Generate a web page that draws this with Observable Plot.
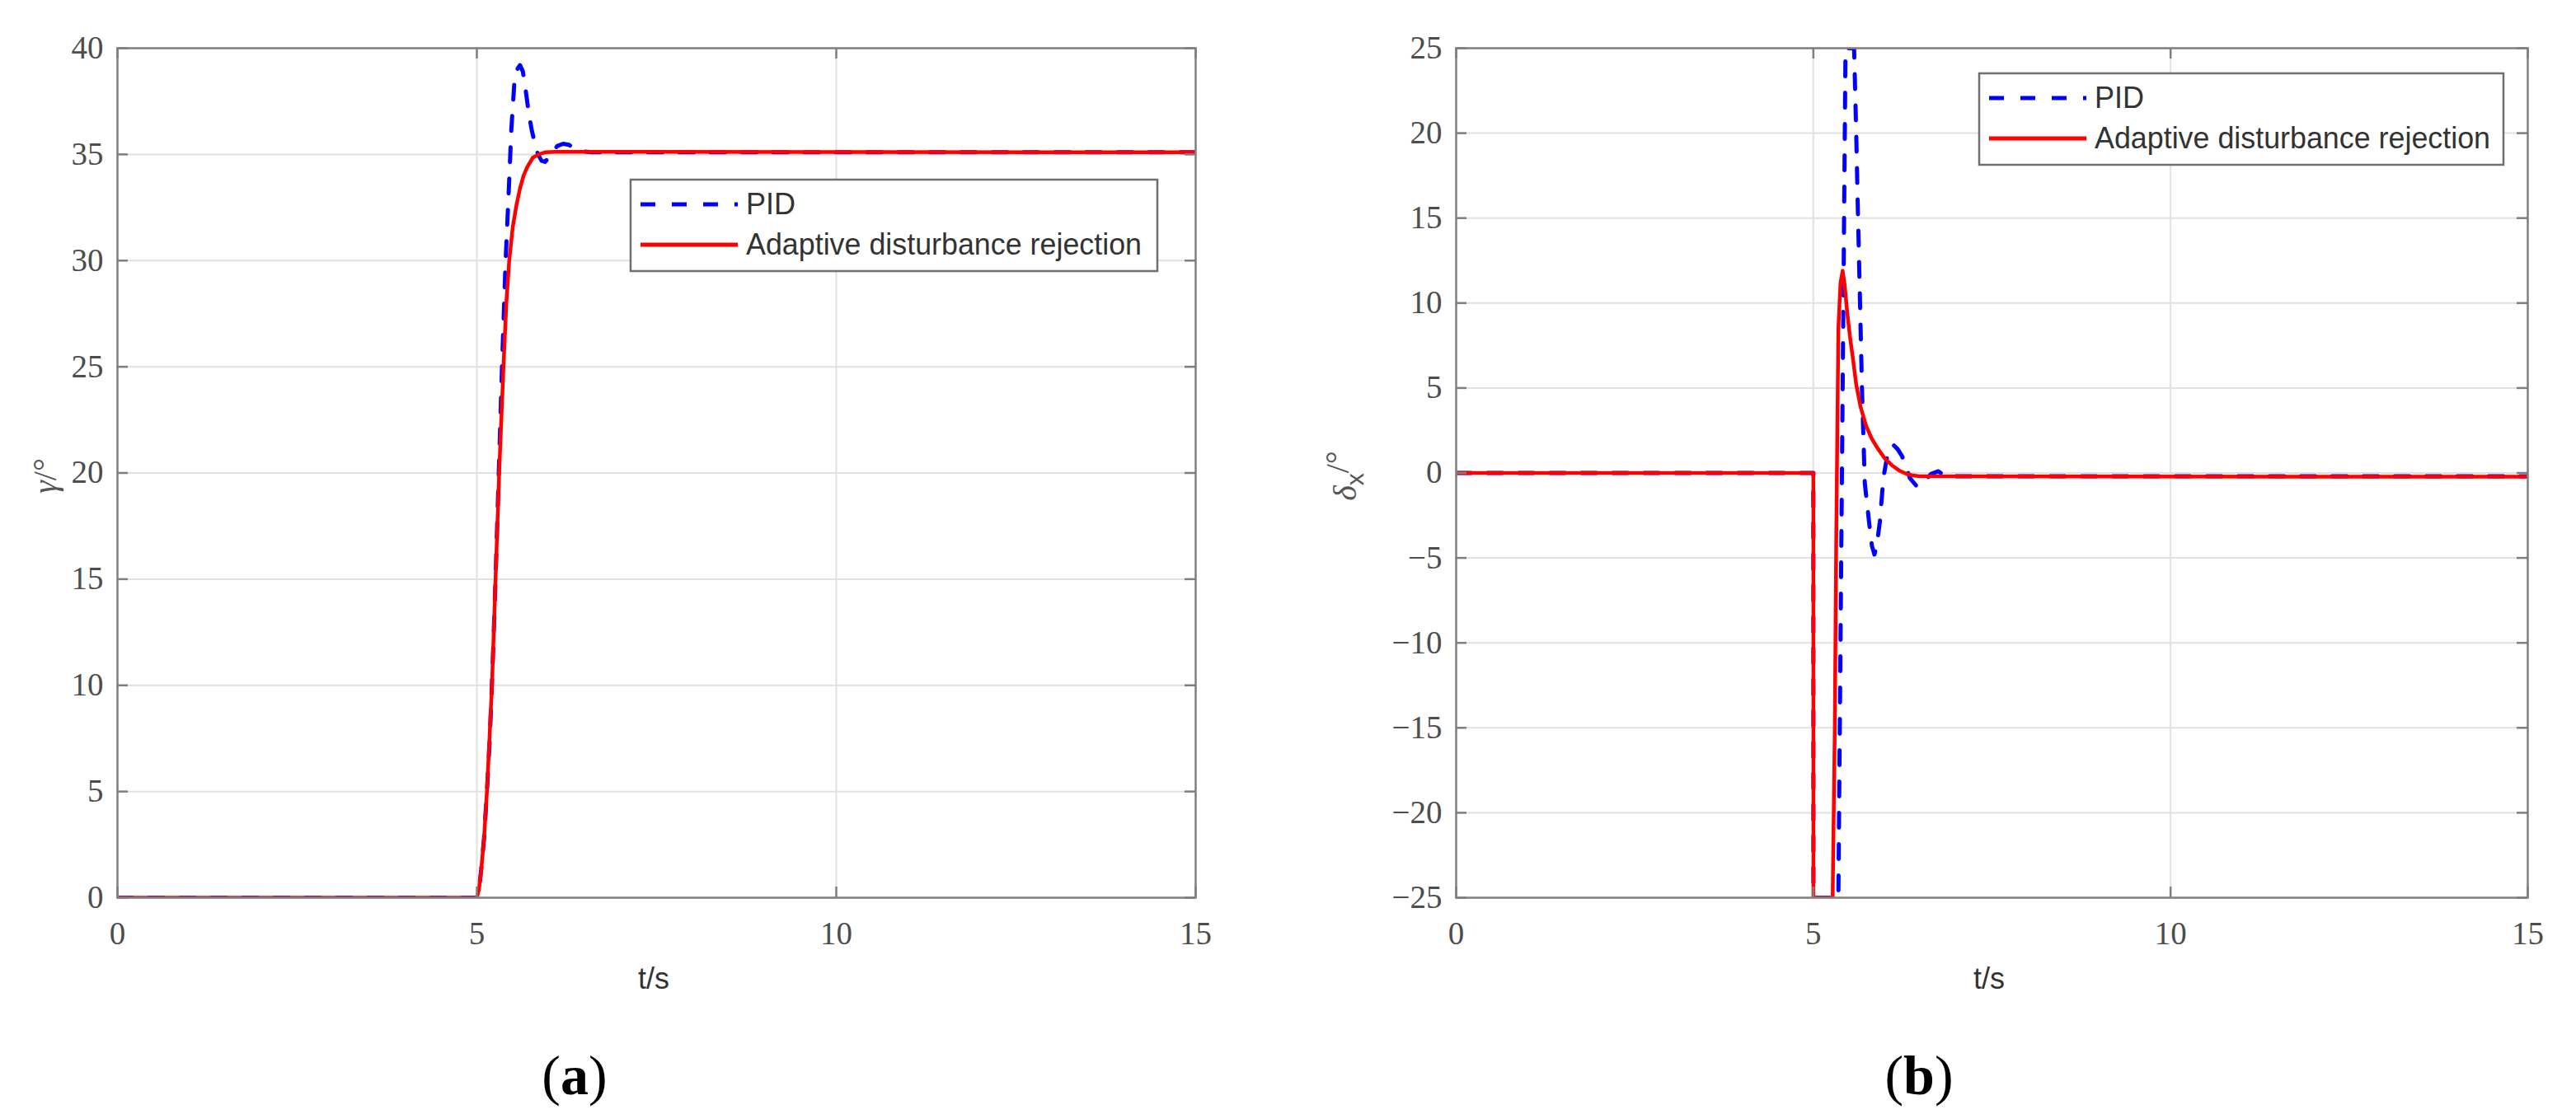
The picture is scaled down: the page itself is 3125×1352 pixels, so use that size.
<!DOCTYPE html>
<html>
<head>
<meta charset="utf-8">
<script src="https://cdn.jsdelivr.net/npm/d3@7"></script>
<script src="https://cdn.jsdelivr.net/npm/@observablehq/plot@0.6"></script>
<style>
html, body { margin: 0; padding: 0; background: #fff; }
#root { position: relative; width: 3125px; height: 1352px; overflow: hidden; background: #fff; }
#root svg { position: absolute; top: 0; }
.cap { position: absolute; top: 1271px; font-family: "Liberation Serif", "Times New Roman", serif; font-size: 68px; line-height: 1; color: #000; transform: translateX(-50%); white-space: nowrap; }
</style>
</head>
<body>
<div id="root"></div>
<script>
// ---------- data ----------
const xTicks = [0, 5, 10, 15];
const gammaTicks = [0, 5, 10, 15, 20, 25, 30, 35, 40];
const deltaTicks = [-25, -20, -15, -10, -5, 0, 5, 10, 15, 20, 25];
const seriesNames = ["PID", "Adaptive disturbance rejection"];

// (a) roll angle gamma
const gammaPidT = [0, 5.00, 5.03, 5.06, 5.10, 5.14, 5.18, 5.22, 5.26, 5.30, 5.35, 5.40, 5.44, 5.48, 5.52, 5.56, 5.60, 5.64, 5.68, 5.72, 5.76, 5.80, 5.85, 5.90, 5.95, 6.00, 6.05, 6.12, 6.20, 6.28, 6.36, 6.45, 6.60, 15];
const gammaPidV = [0, 0, 0.4, 1.3, 2.8, 5.0, 7.5, 11, 15, 19.5, 25, 30, 33, 36.2, 38.3, 39.0, 39.2, 38.9, 38.0, 37.0, 36.2, 35.6, 35.0, 34.7, 34.65, 34.85, 35.1, 35.4, 35.5, 35.45, 35.3, 35.15, 35.1, 35.1];
const gammaAdrT = [0, 5.00, 5.03, 5.06, 5.10, 5.14, 5.18, 5.21, 5.26, 5.31, 5.37, 5.41, 5.45, 5.50, 5.55, 5.60, 5.65, 5.70, 5.78, 5.86, 5.95, 6.10, 15];
const gammaAdrV = [0, 0, 0.4, 1.3, 2.8, 5.0, 7.8, 10, 15, 20, 25, 28, 30, 31.6, 32.6, 33.4, 34.0, 34.4, 34.85, 35.0, 35.1, 35.12, 35.1];

// (b) aileron deflection delta_x
const deltaPidT = [0, 5.00, 5.001, 5.35, 5.45, 5.57, 5.60, 5.62, 5.65, 5.68, 5.72, 5.78, 5.82, 5.855, 5.89, 5.93, 5.98, 6.03, 6.07, 6.12, 6.18, 6.24, 6.30, 6.35, 6.45, 6.55, 6.65, 6.75, 6.85, 15];
const deltaPidV = [0, 0, -25, -25, 25, 25, 20, 16, 10.6, 5.0, -0.6, -2.9, -4.3, -4.8, -4.2, -2.9, -0.3, 0.9, 1.5, 1.65, 1.4, 1.0, 0.35, -0.3, -0.8, -0.5, -0.05, 0.1, -0.2, -0.2];
const deltaAdrT = [0, 5.00, 5.001, 5.27, 5.30, 5.32, 5.35, 5.38, 5.41, 5.44, 5.47, 5.51, 5.55, 5.60, 5.66, 5.74, 5.82, 5.90, 6.00, 6.10, 6.20, 6.30, 6.40, 6.50, 15];
const deltaAdrV = [0, 0, -25, -25, -15, -4, 8.5, 11.2, 11.9, 11.0, 9.6, 8.1, 6.85, 5.2, 3.9, 2.75, 2.0, 1.45, 0.85, 0.45, 0.15, -0.05, -0.15, -0.2, -0.22];

// ---------- styling ----------
const BLUE = "#0000ff", RED = "#ff0000";
const AXIS = "#7f7f7f", GRID = "#e1e1e1", TXT = "#4d4d4d";
const H = 1260, TOP = 58, BOTTOM = 1089, TICK = 13;

const zip = (T, V) => T.map((t, i) => ({t, v: V[i]}));

function panel(o) {
  const innerW = o.width - o.mL - o.mR;
  const innerH = BOTTOM - TOP;
  const svg = Plot.plot({
    width: o.width,
    height: H,
    marginLeft: o.mL,
    marginRight: o.mR,
    marginTop: TOP,
    marginBottom: H - BOTTOM,
    style: {fontFamily: "'Liberation Serif', 'Times New Roman', serif", fontSize: "39px", color: TXT, background: "transparent", overflow: "visible"},
    x: {domain: [0, 15], ticks: xTicks},
    y: {domain: o.yDomain, ticks: o.yTicks},
    marks: [
      Plot.gridX([5, 10], {x: d => d, stroke: GRID, strokeOpacity: 1, strokeWidth: 2}),
      Plot.gridY(o.yTicks, {y: d => d, stroke: GRID, strokeOpacity: 1, strokeWidth: 2}),
      Plot.axisX({ticks: xTicks, tickSize: 0, tickPadding: 29, label: null, fill: TXT}),
      Plot.axisY({ticks: o.yTicks, tickSize: 0, tickPadding: 17, label: null, fill: TXT}),
      Plot.line(zip(o.pidT, o.pidV), {x: "t", y: "v", stroke: BLUE, strokeWidth: 5, strokeDasharray: "18,20", strokeLinejoin: "round", clip: true}),
      Plot.line(zip(o.adrT, o.adrV), {x: "t", y: "v", stroke: RED, strokeWidth: 4.5, strokeLinejoin: "round", clip: true}),
      Plot.tickX(xTicks, {x: d => d, insetTop: innerH - TICK, stroke: AXIS, strokeWidth: 2.5}),
      Plot.tickX(xTicks, {x: d => d, insetBottom: innerH - TICK, stroke: AXIS, strokeWidth: 2.5}),
      Plot.tickY(o.yTicks, {y: d => d, insetRight: innerW - TICK, stroke: AXIS, strokeWidth: 2.5}),
      Plot.tickY(o.yTicks, {y: d => d, insetLeft: innerW - TICK, stroke: AXIS, strokeWidth: 2.5}),
      Plot.frame({stroke: AXIS, strokeWidth: 2.5})
    ]
  });
  svg.style.left = o.left + "px";
  const s = d3.select(svg);

  // x label
  s.append("text")
    .attr("x", o.mL + innerW / 2 - 3).attr("y", 1200)
    .attr("text-anchor", "middle")
    .style("font-family", "'Liberation Sans', Arial, sans-serif").style("font-size", "36px")
    .attr("fill", "#333").text("t/s");

  // y label (rotated)
  const yl = s.append("text")
    .attr("transform", `translate(${o.ylx},${(TOP + BOTTOM) / 2 + 4}) rotate(-90)`)
    .attr("text-anchor", "middle").attr("dy", "0.35em")
    .style("font-family", "'Liberation Serif', 'Times New Roman', serif").style("font-size", "40px")
    .attr("fill", "#555");
  o.ylabel(yl);

  // legend
  const L = o.legend;
  const g = s.append("g").attr("text-anchor", "start");
  g.append("rect").attr("x", L.x).attr("y", L.y).attr("width", L.w).attr("height", L.h)
    .attr("fill", "#fff").attr("stroke", "#6f6f6f").attr("stroke-width", 2.5);
  const rows = [
    {name: seriesNames[0], stroke: BLUE, dash: "18,20", dy: 30},
    {name: seriesNames[1], stroke: RED, dash: null, dy: 79}
  ];
  rows.forEach(r => {
    const yy = L.y + r.dy;
    const ln = g.append("line").attr("x1", L.x + 12).attr("x2", L.x + 130).attr("y1", yy).attr("y2", yy)
      .attr("stroke", r.stroke).attr("stroke-width", 5);
    if (r.dash) ln.attr("stroke-dasharray", r.dash);
    const t = g.append("text").attr("x", L.x + 140).attr("y", yy + 12)
      .attr("text-anchor", "start")
      .style("font-family", "'Liberation Sans', Arial, sans-serif").style("font-size", "36px")
      .attr("fill", "#333").text(r.name);
    if (r.dash == null) t.attr("textLength", 480).attr("lengthAdjust", "spacingAndGlyphs");
  });
  return svg;
}

const root = document.getElementById("root");

root.appendChild(panel({
  left: 0, width: 1562, mL: 142, mR: 112,
  yDomain: [0, 40], yTicks: gammaTicks,
  pidT: gammaPidT, pidV: gammaPidV, adrT: gammaAdrT, adrV: gammaAdrV,
  legend: {x: 765, y: 218, w: 639, h: 111},
  ylx: 54,
  ylabel: t => {
    t.append("tspan").style("font-style", "italic").text("γ");
    t.append("tspan").text("/°");
  }
}));

root.appendChild(panel({
  left: 1562, width: 1563, mL: 204, mR: 59,
  yDomain: [-25, 25], yTicks: deltaTicks,
  pidT: deltaPidT, pidV: deltaPidV, adrT: deltaAdrT, adrV: deltaAdrV,
  legend: {x: 839, y: 89, w: 636, h: 111},
  ylx: 69,
  ylabel: t => {
    t.append("tspan").style("font-style", "italic").text("δ");
    t.append("tspan").attr("dy", "0.3em").style("font-size", "30px").style("font-family", "'Liberation Sans', Arial, sans-serif").text("x");
    t.append("tspan").attr("dy", "-0.45em").text("/°");
  }
}));

const capA = document.createElement("div");
capA.className = "cap"; capA.style.left = "697px";
capA.innerHTML = "(<b>a</b>)";
root.appendChild(capA);
const capB = document.createElement("div");
capB.className = "cap"; capB.style.left = "2328px";
capB.innerHTML = "(<b>b</b>)";
root.appendChild(capB);
</script>
</body>
</html>
